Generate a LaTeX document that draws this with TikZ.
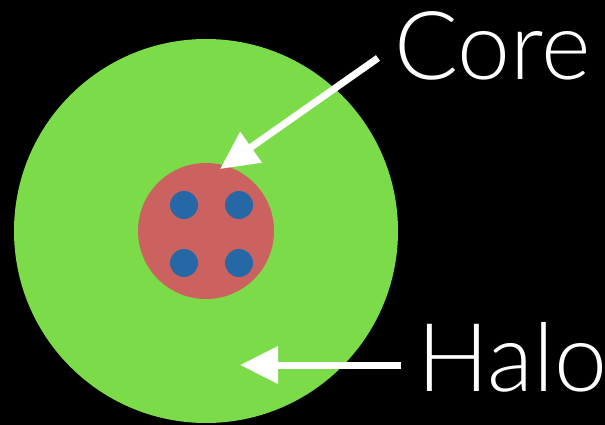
\documentclass[tikz,border=0pt]{standalone}
\usepackage{fontspec}
\setmainfont{Lato Light}
\usetikzlibrary{arrows.meta}
\definecolor{halogreen}{RGB}{123,219,72}
\definecolor{corered}{RGB}{204,98,96}
\definecolor{dotblue}{RGB}{38,103,166}
\tikzset{
  disc/.style={circle,inner sep=0pt,draw=none},
  label text/.style={text=white,font=\fontsize{95}{95}\selectfont,inner sep=0pt,anchor=base west},
  pointer/.style={draw=white,line width=7pt,-{Triangle[length=38pt,width=36pt]}}
}
\begin{document}
\begin{tikzpicture}[x=1pt,y=-1pt]
\fill[black] (0,0) rectangle (605,425);
\useasboundingbox (0,0) rectangle (605,425);
\node[disc,fill=halogreen,minimum size=384pt] (halo) at (206,231) {};
\node[disc,fill=corered,minimum size=136pt] (core) at (206,231) {};
\node[disc,fill=dotblue,minimum size=28pt] (d1) at (184,205) {};
\node[disc,fill=dotblue,minimum size=28pt] (d2) at (239,205) {};
\node[disc,fill=dotblue,minimum size=28pt] (d3) at (184,263) {};
\node[disc,fill=dotblue,minimum size=28pt] (d4) at (239,263) {};
\node[label text] (coretext) at (394,80) {Core};
\node[label text] (halotext) at (417,391) {Halo};
\coordinate (coretail) at (378,58);
\coordinate (coretip) at (220,169);
\coordinate (halotail) at (401,365);
\coordinate (halotip) at (240,365);
\draw[pointer] (coretail) -- (coretip);
\draw[pointer] (halotail) -- (halotip);
\end{tikzpicture}
\end{document}
